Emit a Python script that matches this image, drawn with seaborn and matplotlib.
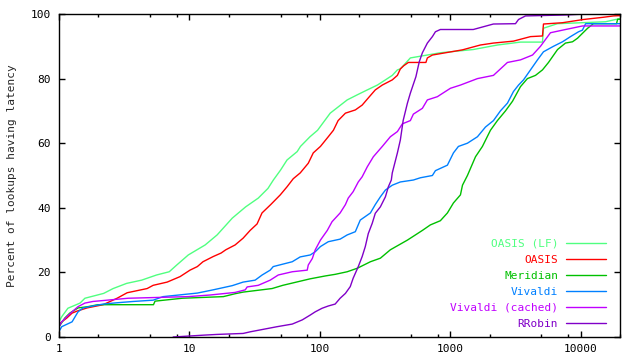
import matplotlib
matplotlib.use('Agg')
import matplotlib.pyplot as plt
import seaborn as sns
from matplotlib.ticker import LogLocator, NullFormatter

# --- data (latency, percent of lookups) ---
names = ['OASIS (LF)', 'OASIS', 'Meridian', 'Vivaldi', 'Vivaldi (cached)', 'RRobin']
colors = ['#50ff80', '#ff0000', '#00c000', '#0080ff', '#c000ff', '#8000c8']

lf_x = [1, 1.05, 1.17, 1.45, 1.58, 2.2, 2.6, 3.3, 4.3, 5.6, 7.0, 8.0, 9.8, 13.2, 16.3, 21.3, 27, 33.7,
        40, 44, 50, 56, 67, 71, 84, 96, 120, 162, 194, 231, 276, 318, 359, 393, 414, 494, 667, 839,
        1500, 2300, 3450, 5090, 5180, 6630, 15500, 18500, 20000]
lf_y = [4.7, 6.3, 8.9, 10.5, 12, 13.5, 15, 16.6, 17.6, 19.2, 20.2, 22.3, 25.4, 28.5, 31.6, 36.8, 40.3, 43,
        46, 48.6, 51.7, 54.8, 57.4, 59, 62, 64, 69.3, 73.4, 75, 76.5, 78, 79.6, 81, 82.7, 83, 86.4, 87.3, 88,
        89, 90.4, 91.3, 91.3, 95.6, 97, 97.6, 98.3, 98.5]

oasis_x = [1, 1.05, 1.15, 1.26, 1.37, 1.64, 2.18, 2.79, 3.33, 4.74, 5.27, 6.75, 8.48, 10.1, 11.5, 12.7,
           15.2, 17.5, 19, 22.4, 25.8, 29.2, 33, 36, 42, 49.7, 56, 62.5, 70.7, 81.5, 89, 101, 116, 127,
           138, 157, 187, 211, 235, 266, 301, 359, 393, 414, 440, 477, 650, 667, 729, 1240, 1700, 2140,
           3050, 4120, 5090, 5180, 7250, 10500, 15000, 17800, 20000]
oasis_y = [3.7, 4.7, 5.9, 7.4, 8, 9, 10, 12, 13.7, 15, 16, 17, 18.7, 20.7, 21.8, 23.3,
           24.9, 26, 27, 28.5, 30.6, 33, 35, 38.4, 41, 44, 46.5, 49, 50.8, 53.8, 57, 59, 62, 64,
           67, 69.3, 70.3, 71.8, 74, 76.5, 78, 79.6, 81, 83, 84, 85, 85, 86.4, 87.3, 88.9, 90.4, 91,
           91.6, 93, 93.2, 96.9, 97.3, 98.3, 99, 99.4, 99.5]

meridian_x = [1, 1.11, 1.21, 1.40, 1.67, 1.99, 5.3, 5.45, 8.8, 18.2, 22.4, 25.8, 43, 52, 84, 110, 131,
              162, 194, 244, 291, 347, 469, 611, 703, 839, 950, 1057, 1196, 1240, 1353, 1560, 1763,
              2031, 2297, 2648, 3000, 3450, 3900, 4500, 5090, 5660, 6640, 7640, 8650, 9450, 10300,
              11300, 12500, 18800, 19200, 20000]
meridian_y = [3.2, 5.9, 7.4, 9, 9.4, 10, 10, 11.1, 12, 12.5, 13.4, 13.9, 15, 16, 18, 18.9, 19.4,
              20.2, 21.3, 23.3, 24.4, 27, 30, 33, 34.7, 36, 38.4, 41.5, 44, 47, 50, 55.8, 59,
              64, 67, 70, 73, 77.5, 80, 81, 82.7, 85, 89, 91, 91.4, 92.5, 94,
              95.6, 97, 97, 98.4, 98.4]

vivaldi_x = [1, 1.05, 1.26, 1.33, 1.40, 1.53, 1.82, 2.18, 2.79, 3.7, 5.27, 6.28, 11.5, 15.2, 21.3, 25.8,
             31.9, 36.1, 41.6, 43.9, 61.4, 70.7, 84.4, 92.2, 101, 116, 143, 162, 187, 204, 244, 266,
             291, 318, 359, 414, 521, 590, 729, 769, 950, 1057, 1154, 1353, 1615, 1860, 2142, 2422,
             2742, 3050, 3335, 3641, 4119, 4660, 5180, 6180, 7250, 8350, 9620, 10300, 10900, 20000]
vivaldi_y = [1.7, 3.2, 4.7, 6.3, 7.8, 9, 9.6, 10.2, 10.6, 11, 11.4, 12.5, 13.6, 14.6, 15.9, 17,
             17.6, 19.2, 20.7, 21.8, 23.3, 24.8, 25.4, 26.4, 28, 29.5, 30.3, 31.6, 32.6, 36.2, 38.4, 41,
             43.4, 45.5, 47, 48, 48.6, 49.3, 50, 51.5, 53.2, 57, 59, 60, 62, 65, 67, 70,
             72.4, 76, 78, 79.6, 82.7, 85.8, 88.3, 90, 91.4, 93, 94.5, 95, 97, 97]

cached_x = [1, 1.05, 1.15, 1.26, 1.40, 1.58, 1.82, 3.39, 9.78, 14.4, 22.4, 26.8, 27.7, 33.7, 41.6, 48,
            61.4, 80, 81.5, 87.5, 92.2, 101, 114, 124, 143, 157, 165, 180, 197, 211, 231, 257, 301,
            347, 393, 429, 494, 521, 611, 667, 796, 839, 1002, 1196, 1615, 2142, 2742, 3454, 4270,
            4914, 5860, 7250, 10320, 20000]
cached_y = [3.2, 4.7, 6.3, 7.8, 9.4, 10.5, 11, 12, 12.5, 13, 13.8, 14.6, 15.5, 16, 17.6, 19.2,
            20.2, 20.7, 22.3, 24.3, 27, 30, 33, 35.7, 38.4, 41, 43, 45, 48, 49.6, 52.7, 55.8, 59,
            62, 63.6, 66, 67, 69, 70.8, 73.4, 74.4, 75, 77, 78, 80, 81, 85, 85.8, 87.3,
            90, 94.2, 95, 96.3, 96.3]

rrobin_x = [7.5, 13.2, 16.3, 25.8, 29.2, 47.1, 61.4, 73.3, 84.4, 92.2, 104, 116, 131, 143, 157, 171,
            180, 197, 211, 223, 235, 252, 266, 291, 318, 335, 353, 359, 393, 414, 435, 469, 494, 545,
            578, 611, 667, 729, 769, 839, 1500, 2140, 3160, 3335, 3770, 7640, 10900, 20000]
rrobin_y = [0, 0.6, 0.8, 1.1, 1.6, 3.2, 4, 5.3, 6.8, 7.8, 8.9, 9.6, 10.2, 12, 13.5, 15.6,
            18.2, 21.8, 24.9, 28, 32, 35.2, 38.3, 40.3, 43.4, 46.5, 48.6, 50.8, 57, 61, 67, 72.4, 75.5, 80.6,
            85.2, 88, 91, 93, 94.5, 95.2, 95.2, 96.9, 97, 98.3, 99.4, 99.7, 100, 100]

series_x = [lf_x, oasis_x, meridian_x, vivaldi_x, cached_x, rrobin_x]
series_y = [lf_y, oasis_y, meridian_y, vivaldi_y, cached_y, rrobin_y]

x_ticks = [1, 10, 100, 1000, 10000]
x_tick_labels = ['1', '10', '100', '1000', '10000']
y_ticks = [0, 20, 40, 60, 80, 100]

# --- plot ---
sns.set_style('ticks')
plt.rcParams['font.family'] = ['DejaVu Sans Mono']

fig, ax = plt.subplots(figsize=(6.4, 3.6), dpi=100)
fig.subplots_adjust(left=59 / 640, right=620 / 640, bottom=1 - 337 / 360, top=1 - 14 / 360)

for xs, ys, c in zip(series_x, series_y, colors):
    sns.lineplot(x=xs, y=ys, color=c, lw=1.0, estimator=None, sort=False, ax=ax, legend=False)

ax.set_xscale('log')
ax.set_xlim(1, 20000)
ax.set_ylim(0, 100)
ax.set_xticks(x_ticks, labels=x_tick_labels)
ax.xaxis.set_minor_locator(LogLocator(base=10, subs=[2, 5, 8]))
ax.xaxis.set_minor_formatter(NullFormatter())
ax.set_yticks(y_ticks)
ax.tick_params(which='both', direction='in', top=True, right=True, width=1, colors='black')
ax.tick_params(which='major', length=4.5, labelsize=8)
ax.tick_params(which='minor', length=2.2)
ax.tick_params(axis='y', pad=6)
ax.tick_params(axis='x', pad=5)
for s in ax.spines.values():
    s.set_linewidth(1)
    s.set_color('black')

ax.set_xlabel('')
ax.set_ylabel('Percent of lookups having latency', fontsize=8)
ax.yaxis.set_label_coords(-0.075, 0.5)

leg = ax.legend(ax.get_lines(), names, loc='lower right', bbox_to_anchor=(1 - 14 / 561, 8 / 323),
                frameon=False, markerfirst=False, handlelength=3.6, handletextpad=0.7,
                labelspacing=0.54, borderpad=0, borderaxespad=0, fontsize=8)
for col in leg._legend_handle_box.get_children():
    col.align = 'right'
for t, c in zip(leg.get_texts(), colors):
    t.set_color(c)

fig.savefig('out.png', dpi=100)
